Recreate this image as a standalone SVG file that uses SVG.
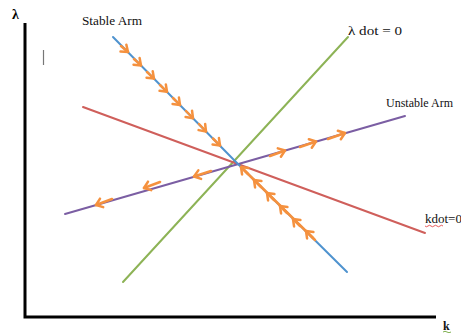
<svg xmlns="http://www.w3.org/2000/svg" width="461" height="333" viewBox="0 0 461 333">
<defs>
<style>
.lbl{font-family:"Liberation Serif","DejaVu Serif",serif;font-size:13px;fill:#111}
.ln{fill:none;stroke-width:2;stroke-linecap:round}
.ar{fill:none;stroke:#f5913e;stroke-width:2.5;stroke-linecap:round;marker-end:url(#ah)}
</style>
<marker id="ah" markerUnits="userSpaceOnUse" markerWidth="14" markerHeight="14" refX="0" refY="0" viewBox="-7 -7 14 14" orient="auto" overflow="visible">
<path d="M-6,-4.5 L0,0 L-6,4.5" fill="none" stroke="#f5913e" stroke-width="2.5" stroke-linecap="round" stroke-linejoin="round"/>
</marker>
</defs>
<rect width="461" height="333" fill="#fff"/>
<g id="axes">
<path d="M25,23 L25,317 L436,317" fill="none" stroke="#000" stroke-width="3"/>
<text x="12" y="19" style="font-family:'Liberation Serif',serif;font-size:14px;font-weight:bold">λ</text>
<text x="443" y="330" class="lbl" style="font-weight:bold;font-size:12px">k</text>
<path d="M443,332 q2,-1.5 4,0 t4,0" fill="none" stroke="#7fb050" stroke-width="1"/>
<line x1="43.5" y1="50" x2="43.5" y2="65" stroke="#777" stroke-width="1.2"/>
</g>
<g id="connectors">
<line class="ln" x1="123" y1="282" x2="348" y2="37" stroke="#8db356"/>
<line class="ln" x1="83" y1="107" x2="425" y2="233" stroke="#cf5f5b"/>
<line class="ln" x1="65" y1="214" x2="405" y2="116" stroke="#7b5ea3"/>
<path class="ln" d="M113,37 L233,159 Q237,163 240,166 L347,272" stroke="#4f93cf"/>
</g>
<g id="stable-arm-arrows">
<line class="ar" x1="121" y1="46" x2="128" y2="52"/>
<line class="ar" x1="134" y1="59" x2="141" y2="65.4"/>
<line class="ar" x1="147" y1="72" x2="154" y2="78.6"/>
<line class="ar" x1="160" y1="85" x2="167" y2="91.8"/>
<line class="ar" x1="173" y1="98" x2="180" y2="105"/>
<line class="ar" x1="186" y1="111" x2="193" y2="118.2"/>
<line class="ar" x1="199" y1="124" x2="206" y2="131.4"/>
<line class="ar" x1="213" y1="138.5" x2="220" y2="145.5"/>
<line x1="241" y1="167" x2="315" y2="240" stroke="#f5913e" stroke-width="2.5" stroke-linecap="round"/>
<line class="ar" x1="248" y1="174" x2="241" y2="167"/>
<line class="ar" x1="261" y1="187" x2="254" y2="180"/>
<line class="ar" x1="274" y1="200" x2="267" y2="193"/>
<line class="ar" x1="287" y1="213" x2="280" y2="206"/>
<line class="ar" x1="300" y1="226" x2="293" y2="219"/>
<line class="ar" x1="313" y1="238" x2="306" y2="231"/>
</g>
<g id="unstable-arm-arrows">
<line class="ar" x1="270" y1="156" x2="285" y2="150.5"/>
<line class="ar" x1="300" y1="147" x2="316" y2="141.5"/>
<line class="ar" x1="328" y1="139" x2="345" y2="133"/>
<line class="ar" x1="211" y1="171" x2="194" y2="176.5"/>
<line class="ar" x1="160" y1="182" x2="144" y2="188"/>
<line class="ar" x1="112" y1="199" x2="96" y2="205"/>
</g>
<g id="labels">
<text x="82" y="25" class="lbl" textLength="60" lengthAdjust="spacingAndGlyphs">Stable Arm</text>
<text x="348" y="35" class="lbl" textLength="54" lengthAdjust="spacingAndGlyphs">λ  dot = 0</text>
<text x="386" y="107" class="lbl" textLength="67" lengthAdjust="spacingAndGlyphs">Unstable Arm</text>
<text x="425" y="223" class="lbl">kdot=0</text>
<path d="M425,226 q1.5,1.5 3,0 t3,0 t3,0 t3,0 t3,0 t3,0" fill="none" stroke="#e03030" stroke-width="0.8"/>
</g>
</svg>
